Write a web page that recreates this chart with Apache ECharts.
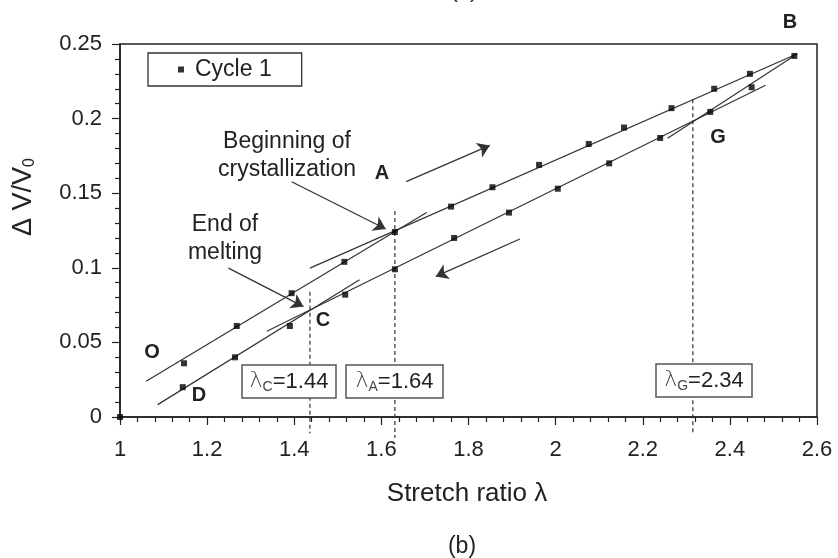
<!DOCTYPE html>
<html>
<head>
<meta charset="utf-8">
<script src="https://cdn.jsdelivr.net/npm/echarts@6/dist/echarts.min.js"></script>
<style>
html,body{margin:0;padding:0;background:#fff;}
#chart{width:838px;height:558px;}
</style>
</head>
<body>
<div id="chart"></div>
<script>
// ---- data ----
const loadX   = [1.000, 1.147, 1.268, 1.394, 1.515, 1.631, 1.760, 1.855, 1.962, 2.076, 2.157, 2.266, 2.364, 2.446, 2.548];
const loadY   = [0.000, 0.036, 0.061, 0.083, 0.104, 0.124, 0.141, 0.154, 0.169, 0.183, 0.194, 0.207, 0.220, 0.230, 0.242];
const unloadX = [2.450, 2.355, 2.240, 2.123, 2.005, 1.893, 1.767, 1.631, 1.517, 1.390, 1.264, 1.144];
const unloadY = [0.221, 0.2045, 0.187, 0.170, 0.153, 0.137, 0.120, 0.099, 0.082, 0.061, 0.040, 0.020];

// fitted straight lines (start / end)
const fitOA_X = [1.060, 1.704];  const fitOA_Y = [0.024, 0.137];
const fitAB_X = [1.436, 2.555];  const fitAB_Y = [0.0998, 0.2435];
const fitDC_X = [1.0865, 1.550]; const fitDC_Y = [0.0083, 0.092];
const fitCG_X = [1.337, 2.482];  const fitCG_Y = [0.0575, 0.2224];
const fitGB_X = [2.257, 2.548];  const fitGB_Y = [0.1868, 0.2421];

// vertical dashed markers (lambda_C, lambda_A, lambda_G)
const markerX    = [1.436, 1.631, 2.315];
const markerTopY = [0.084, 0.138, 0.213];
const markerBotY = [-0.011, -0.014, -0.011];

// arrows [x1, y1, x2, y2]
const arrowLoad   = [1.657, 0.1577, 1.849, 0.182];
const arrowUnload = [1.918, 0.1193, 1.725, 0.0942];
const arrowCryst  = [1.394, 0.1577, 1.610, 0.126];
const arrowMelt   = [1.249, 0.0998, 1.421, 0.074];

const xTicks = [1, 1.2, 1.4, 1.6, 1.8, 2, 2.2, 2.4, 2.6];
const yTicks = [0, 0.05, 0.1, 0.15, 0.2, 0.25];

// ---- chart ----
const FONT = 'Liberation Sans, Arial, sans-serif';
const INK = '#222';
const LINE = '#333';
const pairs = (xs, ys) => xs.map((x, i) => [x, ys[i]]);

const fitSeries = [[fitOA_X, fitOA_Y], [fitAB_X, fitAB_Y], [fitDC_X, fitDC_Y], [fitCG_X, fitCG_Y], [fitGB_X, fitGB_Y]]
  .map(([xs, ys]) => ({
    type: 'line', data: pairs(xs, ys), symbol: 'none', silent: true,
    lineStyle: { color: LINE, width: 1.2 }, z: 2
  }));

const dashSeries = markerX.map((x, i) => ({
  type: 'line', data: [[x, markerTopY[i]], [x, markerBotY[i]]], symbol: 'none',
  clip: false, silent: true,
  lineStyle: { color: '#333', width: 1.2, type: [4, 3] }, z: 1
}));

const arrowLine = a => [{ coord: [a[0], a[1]] }, { coord: [a[2], a[3]] }];

const option = {
  animation: false,
  backgroundColor: '#fff',
  textStyle: { fontFamily: FONT },
  grid: { left: 120, right: 21, top: 44, bottom: 141, show: true, borderColor: INK, borderWidth: 1.5, backgroundColor: 'transparent' },
  legend: {
    left: 148, top: 53,
    data: ['Cycle 1'],
    padding: [5, 30, 5, 30],
    borderColor: '#333', borderWidth: 1.3,
    itemWidth: 6, itemHeight: 6,
    textStyle: { fontSize: 23, color: INK, fontFamily: FONT, padding: [0, 0, 0, 6] }
  },
  xAxis: {
    type: 'value', min: xTicks[0], max: xTicks[xTicks.length - 1], interval: 0.2,
    axisLine: { onZero: false, lineStyle: { color: INK, width: 1.5 } },
    axisTick: { inside: false, length: 8, lineStyle: { color: INK, width: 1.2 } },
    minorTick: { show: true, splitNumber: 5, length: 5, lineStyle: { color: INK, width: 1.2 } },
    splitLine: { show: false },
    axisLabel: { fontSize: 22, color: INK, margin: 22, fontFamily: FONT }
  },
  yAxis: {
    type: 'value', min: yTicks[0], max: yTicks[yTicks.length - 1], interval: 0.05,
    axisLine: { onZero: false, lineStyle: { color: INK, width: 1.5 } },
    axisTick: { inside: false, length: 8, lineStyle: { color: INK, width: 1.2 } },
    minorTick: { show: true, splitNumber: 5, length: 5, lineStyle: { color: INK, width: 1.2 } },
    splitLine: { show: false },
    axisLabel: { fontSize: 22, color: INK, margin: 18, fontFamily: FONT }
  },
  series: [
    ...dashSeries,
    ...fitSeries,
    {
      type: 'line', data: [], symbol: 'none', silent: true,
      markLine: {
        silent: true, symbol: ['none', 'arrow'], symbolSize: 12,
        label: { show: false },
        emphasis: { disabled: true },
        lineStyle: { color: LINE, width: 1.3, type: 'solid' },
        itemStyle: { color: LINE },
        data: [arrowLine(arrowLoad), arrowLine(arrowUnload), arrowLine(arrowCryst), arrowLine(arrowMelt)]
      }
    },
    {
      name: 'Cycle 1', type: 'scatter', symbol: 'rect', symbolSize: 6,
      data: pairs(loadX, loadY).concat(pairs(unloadX, unloadY)),
      itemStyle: { color: '#000' }, z: 5, clip: false
    }
  ],
  graphic: []
};

const txt = (x, y, text, size, extra) => Object.assign({
  type: 'text', x: x, y: y, z: 100, silent: true,
  style: Object.assign({ text: text, fontSize: size, fontFamily: FONT, fill: INK, align: 'center', verticalAlign: 'middle' }, extra || {})
});

const boxLabel = (x1, y1, x2, y2, sub, val) => ([
  { type: 'rect', z: 90, silent: true, shape: { x: x1, y: y1, width: x2 - x1, height: y2 - y1 },
    style: { fill: '#fff', stroke: '#555', lineWidth: 1.5 } },
  { type: 'text', z: 100, silent: true, x: (x1 + x2) / 2, y: (y1 + y2) / 2,
    style: {
      text: '{l|λ}{s|' + sub + '}{t|=' + val + '}', align: 'center', verticalAlign: 'middle',
      fontFamily: FONT, fill: INK,
      rich: {
        l: { fontSize: 22, fontFamily: 'DejaVu Sans', fill: '#444', fontWeight: 300 },
        s: { fontSize: 14, fill: '#444', padding: [12, 0, 0, 0] },
        t: { fontSize: 22, fill: INK }
      }
    } }
]);

option.graphic = [
  txt(464, 2, '(a)', 22, { verticalAlign: 'bottom' }),
  txt(467, 494, 'Stretch ratio λ', 26),
  txt(462, 547, '(b)', 23),
  { type: 'text', x: 24, y: 197, rotation: Math.PI / 2, z: 100, silent: true,
    style: { text: '{a|Δ V/V}{s|0}', align: 'center', verticalAlign: 'middle', fontFamily: FONT, fill: INK,
      rich: { a: { fontSize: 27 }, s: { fontSize: 16, padding: [12, 0, 0, 0] } } } },
  txt(287, 142, 'Beginning of', 23),
  txt(287, 170, 'crystallization', 23),
  txt(225, 225, 'End of', 23),
  txt(225, 253, 'melting', 23),
  txt(382, 173, 'A', 20, { fontWeight: 'bold' }),
  txt(790, 22, 'B', 20, { fontWeight: 'bold' }),
  txt(323, 320, 'C', 20, { fontWeight: 'bold' }),
  txt(199, 395, 'D', 20, { fontWeight: 'bold' }),
  txt(152, 352, 'O', 20, { fontWeight: 'bold' }),
  txt(718, 137, 'G', 20, { fontWeight: 'bold' }),
  ...boxLabel(242, 365, 336, 398, 'C', '1.44'),
  ...boxLabel(346, 365, 443, 398, 'A', '1.64'),
  ...boxLabel(656, 364, 752, 397, 'G', '2.34')
];

const chart = echarts.init(document.getElementById('chart'), null, { renderer: 'canvas' });
chart.setOption(option);
</script>
</body>
</html>
